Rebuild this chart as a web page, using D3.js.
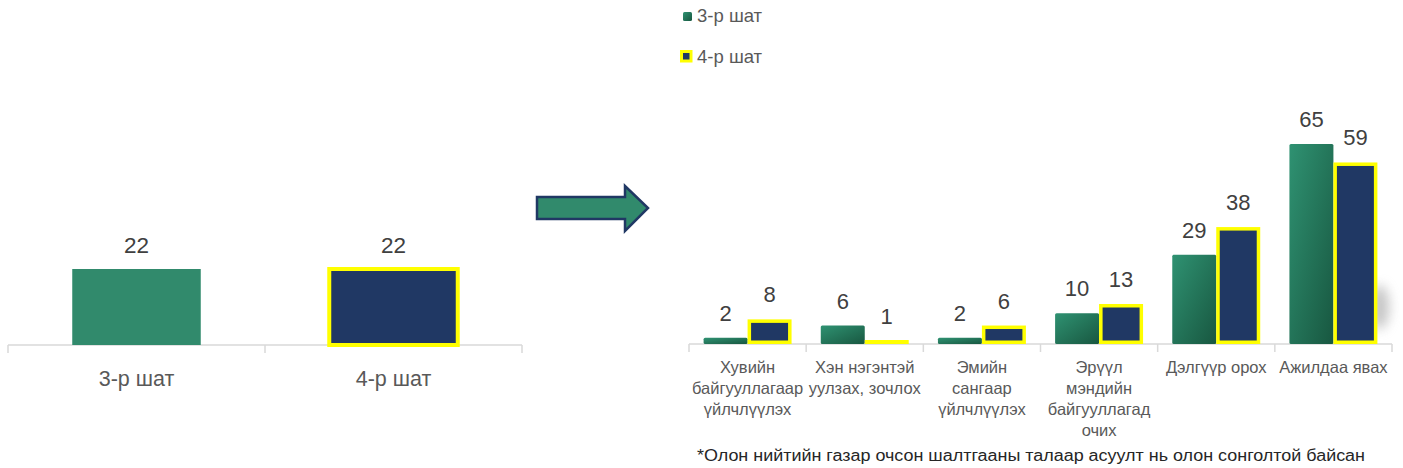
<!DOCTYPE html>
<html><head><meta charset="utf-8">
<script src="https://cdn.jsdelivr.net/npm/d3@7"></script>
<style>body{margin:0;background:#fff}svg{display:block}</style>
</head><body><svg id="c" width="1403" height="468"></svg>
<script>
// ---- data ----
const leftCategories = ["3-р шат", "4-р шат"];
const leftValues = [22, 22];
const categories = [
  "Хувийн\nбайгууллагаар\nүйлчлүүлэх",
  "Хэн нэгэнтэй\nуулзах, зочлох",
  "Эмийн\nсангаар\nүйлчлүүлэх",
  "Эрүүл\nмэндийн\nбайгууллагад\nочих",
  "Дэлгүүр орох",
  "Ажилдаа явах"
];
const seriesNames = ["3-р шат", "4-р шат"];
const stage3 = [2, 6, 2, 10, 29, 65];
const stage4 = [8, 1, 6, 13, 38, 59];
const footnote = "*Олон нийтийн газар очсон шалтгааны талаар асуулт нь олон сонголтой байсан";

// ---- styles ----
const GREEN = "#318a6c", NAVY = "#203864", YELLOW = "#ffff00";
const AXIS = "#d9d9d9", LABEL = "#404040", CAT = "#595959";
const FONT = "'Liberation Sans', Arial, sans-serif";

const svg = d3.select("#c");
const defs = svg.append("defs");
const grad = defs.append("linearGradient").attr("id", "gGreen")
  .attr("x1", 0).attr("y1", 0).attr("x2", 1).attr("y2", 1);
grad.append("stop").attr("offset", "0%").attr("stop-color", "#2f9272");
grad.append("stop").attr("offset", "100%").attr("stop-color", "#185740");
const blur = defs.append("filter").attr("id", "shadow").attr("x", "-50%").attr("y", "-50%").attr("width", "200%").attr("height", "200%");
blur.append("feGaussianBlur").attr("stdDeviation", 6);

// ---- left chart ----
{
  const x = d3.scaleBand().domain(leftCategories).range([8, 522]);
  const y = d3.scaleLinear().domain([0, 22]).range([345, 269]);
  const bw = x.bandwidth() * 0.5;
  const g = svg.append("g");
  g.append("line").attr("x1", x.range()[0]).attr("x2", x.range()[1])
    .attr("y1", y(0)).attr("y2", y(0)).attr("stroke", AXIS).attr("stroke-width", 1.5);
  const bounds = leftCategories.map(c => x(c)).concat([x.range()[1]]);
  g.selectAll(".tk").data(bounds).join("line")
    .attr("x1", d => d).attr("x2", d => d).attr("y1", y(0)).attr("y2", y(0) + 8)
    .attr("stroke", AXIS).attr("stroke-width", 1.5);
  g.selectAll(".bar").data(leftCategories).join("rect")
    .attr("x", (d) => x(d) + (x.bandwidth() - bw) / 2)
    .attr("width", bw)
    .attr("y", (d, i) => y(leftValues[i]))
    .attr("height", (d, i) => y(0) - y(leftValues[i]))
    .attr("fill", (d, i) => i === 0 ? GREEN : NAVY)
    .attr("stroke", (d, i) => i === 0 ? "none" : YELLOW)
    .attr("stroke-width", 4);
  g.selectAll(".val").data(leftCategories).join("text")
    .attr("x", d => x(d) + x.bandwidth() / 2)
    .attr("y", (d, i) => y(leftValues[i]) - 16)
    .attr("text-anchor", "middle").attr("font-family", FONT).attr("font-size", 22.5)
    .attr("fill", LABEL).text((d, i) => leftValues[i]);
  g.selectAll(".cat").data(leftCategories).join("text")
    .attr("x", d => x(d) + x.bandwidth() / 2)
    .attr("y", 386)
    .attr("text-anchor", "middle").attr("font-family", FONT).attr("font-size", 21.5)
    .attr("fill", CAT).text(d => d);
}

// ---- arrow ----
svg.append("path")
  .attr("d", "M537,197 L625,197 L625,186 L648,208 L625,231 L625,219 L537,219 Z")
  .attr("fill", GREEN).attr("stroke", NAVY).attr("stroke-width", 2.5).attr("stroke-linejoin", "miter");

// ---- right chart ----
{
  const x0 = d3.scaleBand().domain(categories).range([689, 1392]);
  const x1 = d3.scaleBand().domain(seriesNames).range([0, x0.bandwidth()]).paddingOuter(0.332);
  const y = d3.scaleLinear().domain([0, 65]).range([344, 144]);
  const g = svg.append("g");
  const bw = x1.bandwidth();
  const sw = 3.5;

  const last = categories[categories.length - 1];
  g.append("ellipse")
    .attr("cx", x0(last) + x1(seriesNames[1]) + bw + 2)
    .attr("cy", y(12))
    .attr("rx", 10).attr("ry", 22)
    .attr("fill", "#9a9a9a").attr("opacity", 0.55).attr("filter", "url(#shadow)");

  g.append("line").attr("x1", x0.range()[0]).attr("x2", x0.range()[1])
    .attr("y1", y(0)).attr("y2", y(0)).attr("stroke", AXIS).attr("stroke-width", 1.5);
  const bounds = categories.map(c => x0(c)).concat([x0.range()[1]]);
  g.selectAll(".tk").data(bounds).join("line")
    .attr("x1", d => d).attr("x2", d => d).attr("y1", y(0)).attr("y2", y(0) + 8)
    .attr("stroke", AXIS).attr("stroke-width", 1.5);

  g.selectAll(".b3").data(categories).join("rect")
    .attr("x", d => x0(d) + x1(seriesNames[0]))
    .attr("width", bw)
    .attr("y", (d, i) => y(stage3[i]))
    .attr("height", (d, i) => y(0) - y(stage3[i]))
    .attr("rx", 1.5)
    .attr("fill", "url(#gGreen)");
  g.selectAll(".b4").data(categories).join("rect")
    .attr("x", d => x0(d) + x1(seriesNames[1]) + sw / 2)
    .attr("width", bw - sw)
    .attr("y", (d, i) => Math.min(y(stage4[i]) + sw / 2, y(0) - sw / 2 - 0.5))
    .attr("height", (d, i) => Math.max(0.5, y(0) - y(stage4[i]) - sw))
    .attr("fill", NAVY).attr("stroke", YELLOW).attr("stroke-width", sw);

  g.selectAll(".v3").data(categories).join("text")
    .attr("x", d => x0(d) + x1(seriesNames[0]) + bw / 2)
    .attr("y", (d, i) => y(stage3[i]) - 17)
    .attr("text-anchor", "middle").attr("font-family", FONT).attr("font-size", 22)
    .attr("fill", LABEL).text((d, i) => stage3[i]);
  g.selectAll(".v4").data(categories).join("text")
    .attr("x", d => x0(d) + x1(seriesNames[1]) + bw / 2)
    .attr("y", (d, i) => y(stage4[i]) - 17)
    .attr("text-anchor", "middle").attr("font-family", FONT).attr("font-size", 22)
    .attr("fill", LABEL).text((d, i) => stage4[i]);

  const cats = g.selectAll(".cat").data(categories).join("text")
    .attr("text-anchor", "middle").attr("font-family", FONT).attr("font-size", 16.5)
    .attr("fill", CAT);
  cats.each(function (d) {
    const t = d3.select(this);
    d.split("\n").forEach((line, k) => {
      t.append("tspan").attr("x", x0(d) + x0.bandwidth() / 2).attr("y", 373 + k * 21).text(line);
    });
  });

  const lg = svg.append("g");
  lg.append("rect").attr("x", 683).attr("y", 12).attr("width", 9).attr("height", 9)
    .attr("rx", 1.5).attr("fill", "url(#gGreen)");
  lg.append("rect").attr("x", 681.5).attr("y", 51.5).attr("width", 9.5).attr("height", 9.5)
    .attr("fill", NAVY).attr("stroke", YELLOW).attr("stroke-width", 3);
  lg.selectAll(".lt").data(seriesNames).join("text")
    .attr("x", 697).attr("y", (d, i) => 22 + i * 41)
    .attr("font-family", FONT).attr("font-size", 18.5).attr("fill", CAT).text(d => d);

  svg.append("text").attr("x", 697).attr("y", 461)
    .attr("font-family", "'Liberation Sans Narrow', 'Liberation Sans', Arial, sans-serif")
    .attr("font-size", 16).attr("fill", "#262626")
    .attr("textLength", 668).attr("lengthAdjust", "spacingAndGlyphs")
    .text(footnote);
}
</script></body></html>
